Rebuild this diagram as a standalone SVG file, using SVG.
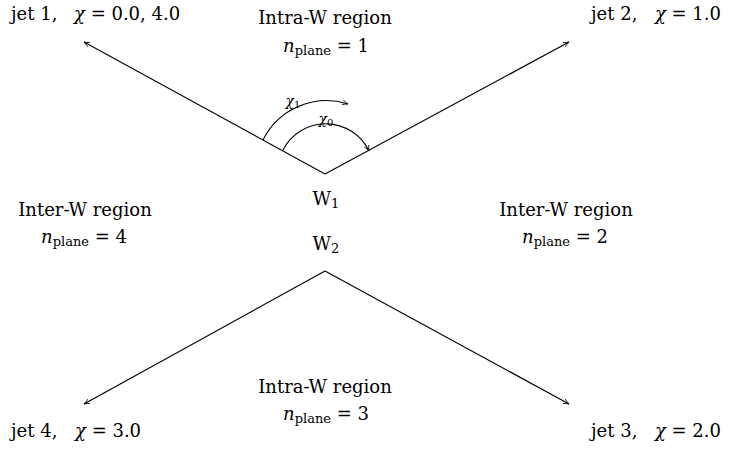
<svg xmlns="http://www.w3.org/2000/svg" width="729" height="450" viewBox="0 0 729 450">
<defs>
<marker id="ah" viewBox="0 0 10 10" refX="9" refY="5" markerWidth="7" markerHeight="7" orient="auto" markerUnits="userSpaceOnUse">
<path d="M1,1.5 Q5,4 9,5 Q5,6 1,8.5" fill="none" stroke="#000" stroke-width="1.1"/>
</marker>
<style>
text{font-family:"DejaVu Serif","Liberation Serif",serif;font-size:18px;fill:#000}
.c{text-anchor:middle}
.e{text-anchor:end}
.i{font-style:italic}
.g{font-size:14px}
.ln{fill:none;stroke:#000;stroke-width:1.1}
</style>
</defs>
<rect width="729" height="450" fill="#fff"/>
<g id="connectors">
<path class="ln" d="M325,174 L84,42" marker-end="url(#ah)"/>
<path class="ln" d="M325,174 L569,42" marker-end="url(#ah)"/>
<path class="ln" d="M325,271 L84,404" marker-end="url(#ah)"/>
<path class="ln" d="M325,271 L569,404" marker-end="url(#ah)"/>
<path class="ln" d="M283,150 A48,48 0 0 1 369,151" marker-end="url(#ah)"/>
<path class="ln" d="M263,140 A71,71 0 0 1 348,104" marker-end="url(#ah)"/>
</g>
<g id="angle-labels">
<text x="293" y="106" class="c g"><tspan class="i">χ</tspan><tspan font-size="10" dy="2">1</tspan></text>
<text x="326" y="124" class="c g"><tspan class="i">χ</tspan><tspan font-size="10" dy="2">0</tspan></text>
</g>
<g id="jet1"><text x="11" y="20">jet 1,</text><text x="74" y="20"><tspan class="i">χ</tspan> = 0.0, 4.0</text></g>
<g id="jet2"><text x="591" y="20">jet 2,</text><text x="721" y="20" class="e"><tspan class="i">χ</tspan> = 1.0</text></g>
<g id="jet3"><text x="591" y="437">jet 3,</text><text x="721" y="437" class="e"><tspan class="i">χ</tspan> = 2.0</text></g>
<g id="jet4"><text x="11" y="437">jet 4,</text><text x="75" y="437"><tspan class="i">χ</tspan> = 3.0</text></g>
<g id="region-top">
<text x="325" y="24" class="c">Intra-W region</text>
<text x="326" y="52" class="c"><tspan class="i">n</tspan><tspan font-size="13" dy="3">plane</tspan><tspan dy="-3"> = 1</tspan></text>
</g>
<g id="region-left">
<text x="85" y="216" class="c">Inter-W region</text>
<text x="84" y="243" class="c"><tspan class="i">n</tspan><tspan font-size="13" dy="3">plane</tspan><tspan dy="-3"> = 4</tspan></text>
</g>
<g id="region-right">
<text x="566" y="216" class="c">Inter-W region</text>
<text x="565" y="243" class="c"><tspan class="i">n</tspan><tspan font-size="13" dy="3">plane</tspan><tspan dy="-3"> = 2</tspan></text>
</g>
<g id="region-bottom">
<text x="325" y="393" class="c">Intra-W region</text>
<text x="326" y="420" class="c"><tspan class="i">n</tspan><tspan font-size="13" dy="3">plane</tspan><tspan dy="-3"> = 3</tspan></text>
</g>
<g id="W1"><text x="326" y="205" class="c">W<tspan font-size="13" dy="3">1</tspan></text></g>
<g id="W2"><text x="326" y="250" class="c">W<tspan font-size="13" dy="3">2</tspan></text></g>
</svg>
